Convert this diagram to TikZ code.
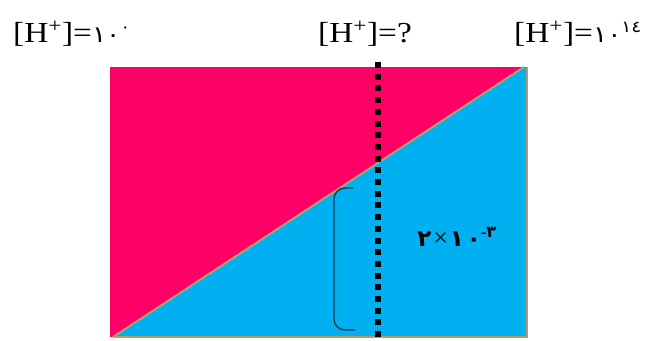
\documentclass[tikz,border=0pt]{standalone}
\usepackage{fontspec}
\usepackage{graphicx}
\setmainfont{Liberation Serif}
\newfontfamily\digitfont{DejaVu Sans}
\definecolor{pinkfill}{HTML}{FF0066}
\definecolor{bluefill}{HTML}{00B0F0}
\definecolor{olivec}{HTML}{ABA06E}
\definecolor{bracketc}{HTML}{1C3447}
\tikzset{
  hlabel/.style={anchor=base west, inner sep=0pt, font=\fontsize{29}{29}\selectfont},
  divline/.style={line width=6pt, dash pattern=on 6pt off 5.7pt},
  bracketline/.style={draw=bracketc, line width=1.3pt, rounded corners=11pt},
  edgeline/.style={draw=olivec, line width=2pt}
}
\newcommand{\ardig}[1]{{\digitfont\fontsize{23}{23}\selectfont #1}}
\begin{document}
\begin{tikzpicture}[x=1pt,y=-1pt]
\useasboundingbox (0,0) rectangle (650,340);
\coordinate (TL) at (110,67);
\coordinate (TR) at (527,67);
\coordinate (BR) at (527,337);
\coordinate (BL) at (110,337);
\coordinate (DTR) at (524,67);
\coordinate (DBL) at (113,337);
\fill[pinkfill] (TL) rectangle (BR);
\fill[bluefill] (DBL) -- (DTR) -- (TR) -- (BR) -- cycle;
\draw[edgeline] (DBL) -- (DTR);
\draw[edgeline] (TR) -- (BR) -- (DBL);
% dotted divider
\coordinate (dtop) at (378,62);
\coordinate (dbot) at (378,340);
\draw[divline] (dtop) -- (dbot);
% bracket
\coordinate (b1) at (353,188);
\coordinate (b2) at (334,188);
\coordinate (b3) at (334,330);
\coordinate (b4) at (355,330);
\draw[bracketline] (b1) -- (b2) -- (b3) -- (b4);
\node[inner sep=0pt] (val) at (457,237) {{\digitfont\bfseries\fontsize{23}{23}\selectfont ٢}\hspace{2pt}{\fontsize{26}{26}\selectfont ×}\hspace{2pt}{\digitfont\bfseries\fontsize{23}{23}\selectfont ١\hspace{3pt}٠\textsuperscript{{\rmfamily\bfseries -}٣}}};
% labels
\node[hlabel] (l1) at (13,42) {\scalebox{1.15}[1]{[H\textsuperscript{+}]=\ardig{١٠\textsuperscript{٠}}}};
\node[hlabel] (l2) at (318,42) {\scalebox{1.15}[1]{[H\textsuperscript{+}]=?}};
\node[hlabel] (l3) at (514,42) {\scalebox{1.15}[1]{[H\textsuperscript{+}]=\ardig{١٠\textsuperscript{١٤}}}};
\end{tikzpicture}
\end{document}
